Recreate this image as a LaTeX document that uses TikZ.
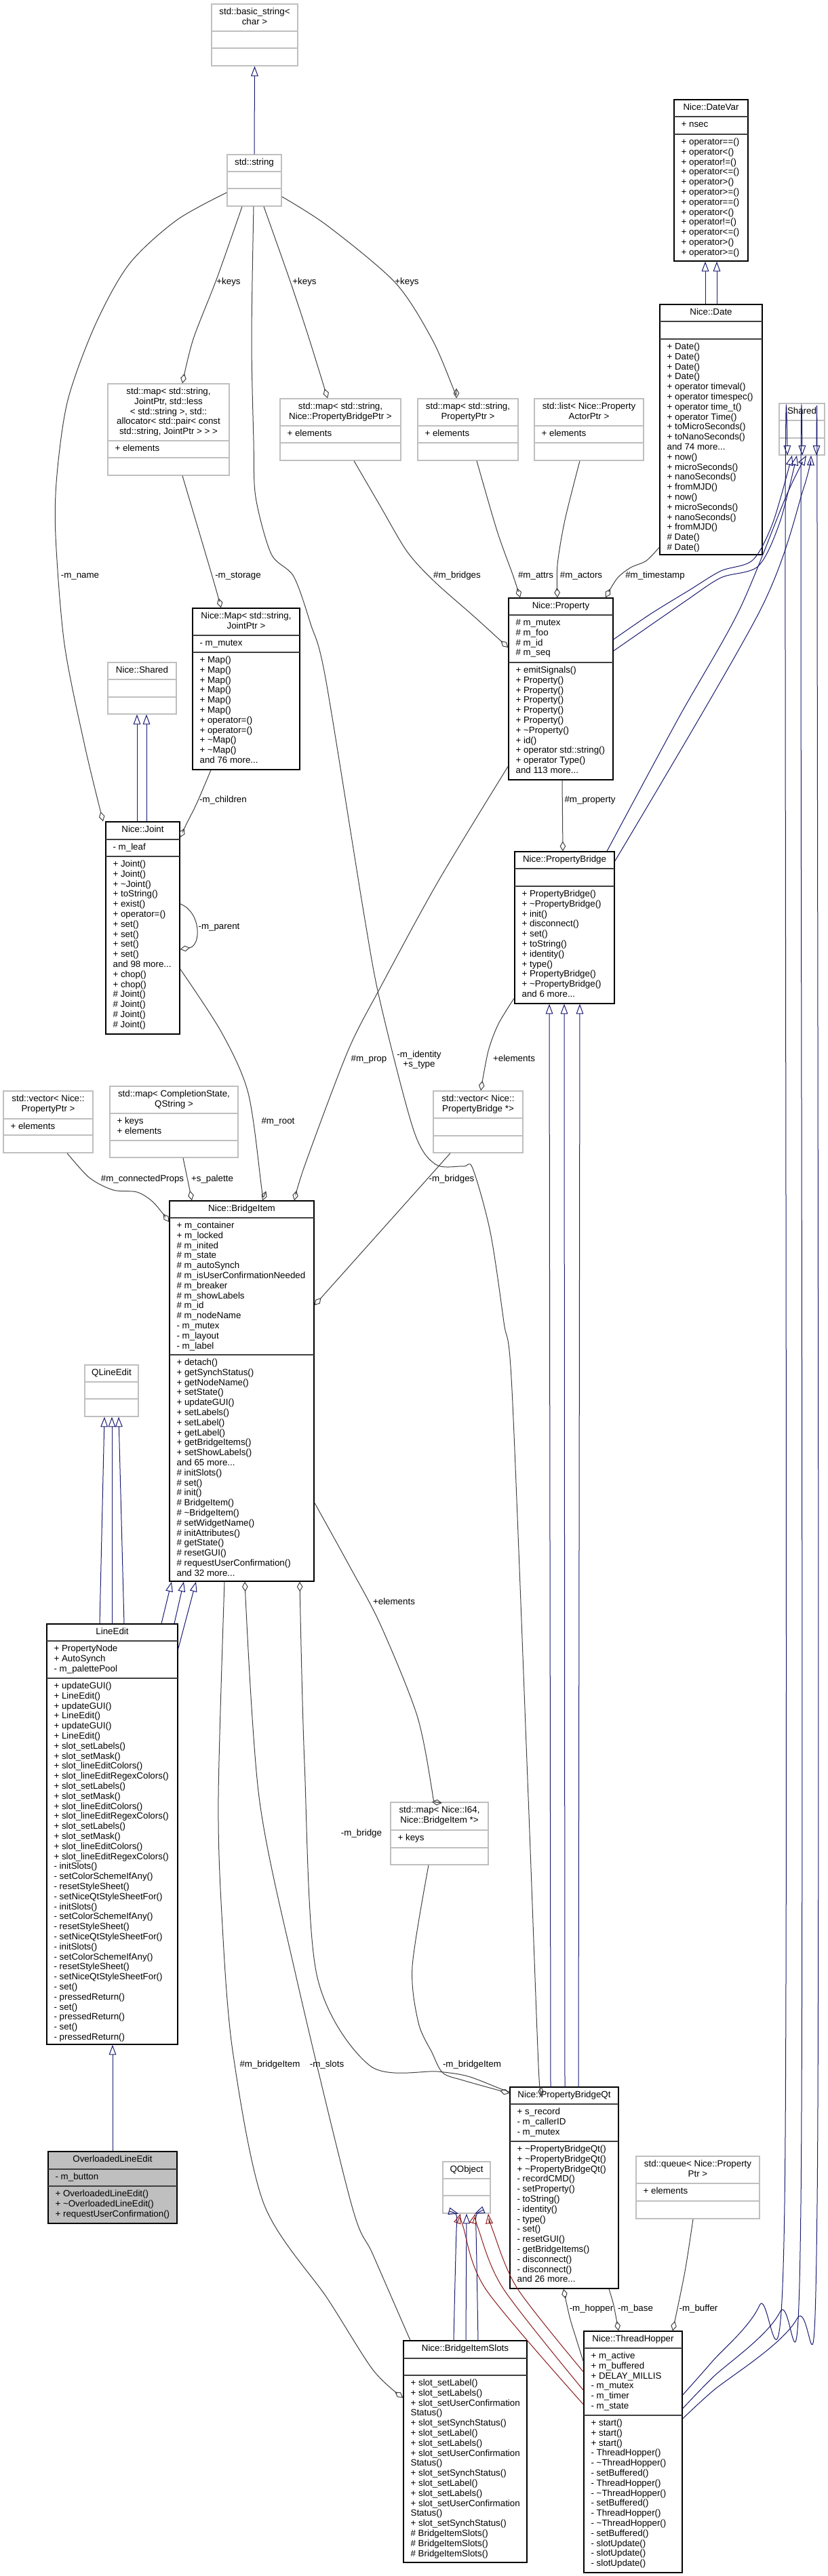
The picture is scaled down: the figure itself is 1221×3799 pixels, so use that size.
\documentclass[tikz,border=0pt]{standalone}
\usepackage{fontspec}
\setmainfont{Liberation Sans}
\usetikzlibrary{arrows.meta,fit}

\definecolor{extgray}{HTML}{BFBFBF}
\definecolor{sepgray}{HTML}{404040}
\definecolor{edgegray}{HTML}{404040}
\definecolor{inhblue}{HTML}{191970}
\definecolor{privred}{HTML}{8B1A1A}

\newcommand{\titlelines}[1]{\begin{tabular}[t]{@{}c@{}}#1\end{tabular}}
\newcommand{\memberlines}[1]{\begin{tabular}[t]{@{}l@{}}#1\end{tabular}}

% class box: style, name, (left, right, top, end of title, end of attributes, bottom), title
\def\umlbox#1#2(#3,#4,#5,#6,#7,#8)#9{%
  \node[#1, fit={(#3,#5) (#4,#8)}] (#2) {};
  \draw[#1 sep] (#3,#6) -- (#4,#6) (#3,#7) -- (#4,#7);
  \node[boxtitle] (#2-title) at ({(#3+#4)/2},{#5+15.5}) {\titlelines{#9}};
}
% one section of members, starting at y
\newcommand{\members}[3]{%
  \path (#1.west |- 0,#2) ++(11,15.5) node[boxtext] (#1-#2) {\memberlines{#3}};
}

\begin{document}
\begin{tikzpicture}[x=0.75pt, y=-0.75pt,
  extbox/.style={draw=extgray, line width=1pt, inner sep=0pt},
  extbox sep/.style={draw=extgray, line width=1pt},
  docbox/.style={draw=black, line width=1pt, inner sep=0pt},
  docbox sep/.style={draw=sepgray, line width=1.5pt},
  mainbox/.style={draw=black, fill=extgray, line width=1pt, inner sep=0pt},
  mainbox sep/.style={draw=sepgray, line width=1.5pt},
  boxtitle/.style={anchor=base, inner sep=0pt, font=\fontsize{10}{11.1}\selectfont},
  boxtext/.style={anchor=base west, inner sep=0pt, font=\fontsize{10}{11.1}\selectfont},
  elabel/.style={inner sep=0pt, text height=7.5pt, text depth=2pt, font=\fontsize{10}{11.1}\selectfont},
  elabel2/.style={inner sep=0pt, anchor=base, font=\fontsize{10}{11.1}\selectfont},
  assoc/.style={draw=edgegray, line width=0.75pt, -{Diamond[open, length=11pt, width=6.5pt]}},
  inherit/.style={draw=inhblue, line width=0.75pt, -{Triangle[open, length=11pt, width=8pt]}},
  privinherit/.style={draw=privred, line width=0.75pt, -{Triangle[open, length=11pt, width=8pt]}},
]
\useasboundingbox (0,0) rectangle (1221,3799);

% classes
\umlbox{extbox}{bstr}(312,439,6,46,71,97){std::basic\_string<\\char >}
\umlbox{extbox}{str}(335,415,228,253,278,304){std::string}

\umlbox{docbox}{datevar}(994,1103,147,172,198,385){Nice::DateVar}
\members{datevar}{172}{+ nsec}
\members{datevar}{198}{+ operator==()\\+ operator<()\\+ operator!=()\\+ operator<=()\\+ operator>()\\+ operator>=()\\+ operator==()\\+ operator<()\\+ operator!=()\\+ operator<=()\\+ operator>()\\+ operator>=()}

\umlbox{docbox}{date}(973,1124,449,474,500,818){Nice::Date}
\members{date}{500}{+ Date()\\+ Date()\\+ Date()\\+ Date()\\+ operator timeval()\\+ operator timespec()\\+ operator time\_t()\\+ operator Time()\\+ toMicroSeconds()\\+ toNanoSeconds()\\and 74 more...\\+ now()\\+ microSeconds()\\+ nanoSeconds()\\+ fromMJD()\\+ now()\\+ microSeconds()\\+ nanoSeconds()\\+ fromMJD()\\\# Date()\\\# Date()}

\umlbox{extbox}{shared}(1149,1216,595,620,646,671){Shared}

\umlbox{extbox}{jmap}(159,338,566,650,675,701){std::map< std::string,\\JointPtr, std::less\\< std::string >, std::\\allocator< std::pair< const\\std::string, JointPtr > > >}
\members{jmap}{650}{+ elements}
\umlbox{extbox}{pbmap}(413,591,588,628,653,679){std::map< std::string,\\Nice::PropertyBridgePtr >}
\members{pbmap}{628}{+ elements}
\umlbox{extbox}{pmap}(616,764,588,628,653,679){std::map< std::string,\\PropertyPtr >}
\members{pmap}{628}{+ elements}
\umlbox{extbox}{alist}(788,949,588,628,653,679){std::list< Nice::Property\\ActorPtr >}
\members{alist}{628}{+ elements}

\umlbox{docbox}{prop}(750,904,882,907,977,1150){Nice::Property}
\members{prop}{907}{\# m\_mutex\\\# m\_foo\\\# m\_id\\\# m\_seq}
\members{prop}{977}{+ emitSignals()\\+ Property()\\+ Property()\\+ Property()\\+ Property()\\+ Property()\\+ \textasciitilde Property()\\+ id()\\+ operator std::string()\\+ operator Type()\\and 113 more...}

\umlbox{extbox}{nshared}(159,260,977,1002,1028,1053){Nice::Shared}

\umlbox{docbox}{nmap}(284,442,897,937,962,1135){Nice::Map< std::string,\\JointPtr >}
\members{nmap}{937}{- m\_mutex}
\members{nmap}{962}{+ Map()\\+ Map()\\+ Map()\\+ Map()\\+ Map()\\+ Map()\\+ operator=()\\+ operator=()\\+ \textasciitilde Map()\\+ \textasciitilde Map()\\and 76 more...}

\umlbox{docbox}{joint}(156,265,1212,1238,1263,1525){Nice::Joint}
\members{joint}{1238}{- m\_leaf}
\members{joint}{1263}{+ Joint()\\+ Joint()\\+ \textasciitilde Joint()\\+ toString()\\+ exist()\\+ operator=()\\+ set()\\+ set()\\+ set()\\+ set()\\and 98 more...\\+ chop()\\+ chop()\\\# Joint()\\\# Joint()\\\# Joint()\\\# Joint()}

\umlbox{docbox}{pbridge}(759,906,1256,1281,1307,1480){Nice::PropertyBridge}
\members{pbridge}{1307}{+ PropertyBridge()\\+ \textasciitilde PropertyBridge()\\+ init()\\+ disconnect()\\+ set()\\+ toString()\\+ identity()\\+ type()\\+ PropertyBridge()\\+ \textasciitilde PropertyBridge()\\and 6 more...}

\umlbox{extbox}{pvec}(5,137,1609,1650,1674,1700){std::vector< Nice::\\PropertyPtr >}
\members{pvec}{1650}{+ elements}
\umlbox{extbox}{csmap}(162,351,1602,1642,1682,1707){std::map< CompletionState,\\QString >}
\members{csmap}{1642}{+ keys\\+ elements}
\umlbox{extbox}{pbvec}(639,771,1609,1649,1675,1700){std::vector< Nice::\\PropertyBridge *>}

\umlbox{docbox}{bitem}(250,463,1771,1796,1998,2332){Nice::BridgeItem}
\members{bitem}{1796}{+ m\_container\\+ m\_locked\\\# m\_inited\\\# m\_state\\\# m\_autoSynch\\\# m\_isUserConfirmationNeeded\\\# m\_breaker\\\# m\_showLabels\\\# m\_id\\\# m\_nodeName\\- m\_mutex\\- m\_layout\\- m\_label}
\members{bitem}{1998}{+ detach()\\+ getSynchStatus()\\+ getNodeName()\\+ setState()\\+ updateGUI()\\+ setLabels()\\+ setLabel()\\+ getLabel()\\+ getBridgeItems()\\+ setShowLabels()\\and 65 more...\\\# initSlots()\\\# set()\\\# init()\\\# BridgeItem()\\\# \textasciitilde BridgeItem()\\\# setWidgetName()\\\# initAttributes()\\\# getState()\\\# resetGUI()\\\# requestUserConfirmation()\\and 32 more...}

\umlbox{extbox}{qle}(125,204,2013,2038,2063,2089){QLineEdit}

\umlbox{docbox}{ledit}(69,262,2395,2420,2475,3015){LineEdit}
\members{ledit}{2420}{+ PropertyNode\\+ AutoSynch\\- m\_palettePool}
\members{ledit}{2475}{+ updateGUI()\\+ LineEdit()\\+ updateGUI()\\+ LineEdit()\\+ updateGUI()\\+ LineEdit()\\+ slot\_setLabels()\\+ slot\_setMask()\\+ slot\_lineEditColors()\\+ slot\_lineEditRegexColors()\\+ slot\_setLabels()\\+ slot\_setMask()\\+ slot\_lineEditColors()\\+ slot\_lineEditRegexColors()\\+ slot\_setLabels()\\+ slot\_setMask()\\+ slot\_lineEditColors()\\+ slot\_lineEditRegexColors()\\- initSlots()\\- setColorSchemeIfAny()\\- resetStyleSheet()\\- setNiceQtStyleSheetFor()\\- initSlots()\\- setColorSchemeIfAny()\\- resetStyleSheet()\\- setNiceQtStyleSheetFor()\\- initSlots()\\- setColorSchemeIfAny()\\- resetStyleSheet()\\- setNiceQtStyleSheetFor()\\- set()\\- pressedReturn()\\- set()\\- pressedReturn()\\- set()\\- pressedReturn()}

\umlbox{mainbox}{ole}(71,261,3173,3199,3224,3279){OverloadedLineEdit}
\members{ole}{3199}{- m\_button}
\members{ole}{3224}{+ OverloadedLineEdit()\\+ \textasciitilde OverloadedLineEdit()\\+ requestUserConfirmation()}

\umlbox{extbox}{imap}(576,720,2658,2699,2725,2750){std::map< Nice::I64,\\Nice::BridgeItem *>}
\members{imap}{2699}{+ keys}
\umlbox{extbox}{qobj}(653,723,3188,3213,3238,3264){QObject}

\umlbox{docbox}{pbqt}(752,912,3078,3103,3158,3375){Nice::PropertyBridgeQt}
\members{pbqt}{3103}{+ s\_record\\- m\_callerID\\- m\_mutex}
\members{pbqt}{3158}{+ \textasciitilde PropertyBridgeQt()\\+ \textasciitilde PropertyBridgeQt()\\+ \textasciitilde PropertyBridgeQt()\\- recordCMD()\\- setProperty()\\- toString()\\- identity()\\- type()\\- set()\\- resetGUI()\\- getBridgeItems()\\- disconnect()\\- disconnect()\\and 26 more...}

\umlbox{extbox}{queue}(938,1120,3180,3220,3246,3272){std::queue< Nice::Property\\Ptr >}
\members{queue}{3220}{+ elements}

\umlbox{docbox}{hopper}(861,1006,3438,3463,3562,3794){Nice::ThreadHopper}
\members{hopper}{3463}{+ m\_active\\+ m\_buffered\\+ DELAY\_MILLIS\\- m\_mutex\\- m\_timer\\- m\_state}
\members{hopper}{3562}{+ start()\\+ start()\\+ start()\\- ThreadHopper()\\- \textasciitilde ThreadHopper()\\- setBuffered()\\- ThreadHopper()\\- \textasciitilde ThreadHopper()\\- setBuffered()\\- ThreadHopper()\\- \textasciitilde ThreadHopper()\\- setBuffered()\\- slotUpdate()\\- slotUpdate()\\- slotUpdate()}

\umlbox{docbox}{bis}(595,777,3452,3478,3503,3779){Nice::BridgeItemSlots}
\members{bis}{3503}{+ slot\_setLabel()\\+ slot\_setLabels()\\+ slot\_setUserConfirmation\\Status()\\+ slot\_setSynchStatus()\\+ slot\_setLabel()\\+ slot\_setLabels()\\+ slot\_setUserConfirmation\\Status()\\+ slot\_setSynchStatus()\\+ slot\_setLabel()\\+ slot\_setLabels()\\+ slot\_setUserConfirmation\\Status()\\+ slot\_setSynchStatus()\\\# BridgeItemSlots()\\\# BridgeItemSlots()\\\# BridgeItemSlots()}

% inheritance
\draw[inherit] (str.north) -- (bstr.south);
\draw[inherit] (1040,0 |- date.north) -- (1040,0 |- datevar.south);
\draw[inherit] (1057,0 |- date.north) -- (1057,0 |- datevar.south);
\draw[inherit] (202,0 |- joint.north) -- (202,0 |- nshared.south);
\draw[inherit] (216,0 |- joint.north) -- (216,0 |- nshared.south);
\draw[inherit] (147,0 |- ledit.north) -- (154,0 |- qle.south);
\draw[inherit] (165,0 |- ledit.north) -- (165,0 |- qle.south);
\draw[inherit] (183,0 |- ledit.north) -- (175,0 |- qle.south);
\draw[inherit] (238,0 |- ledit.north) -- (253,0 |- bitem.south);
\draw[inherit] (257,0 |- ledit.north) -- (271,0 |- bitem.south);
\draw[inherit] (ledit.east |- 0,2432) -- (289,0 |- bitem.south);
\draw[inherit] (ole.north) -- (ole.north |- ledit.south);
\draw[inherit] (812,0 |- pbqt.north) -- (810,0 |- pbridge.south);
\draw[inherit] (833,0 |- pbqt.north) -- (832,0 |- pbridge.south);
\draw[inherit] (853,0 |- pbqt.north) -- (855,0 |- pbridge.south);
\draw[inherit] plot[smooth] coordinates {(669,0 |- bis.north) (673,3290) (676,0 |- qobj.south)};
\draw[inherit] (687,0 |- bis.north) -- (688,0 |- qobj.south);
\draw[inherit] plot[smooth] coordinates {(705,0 |- bis.north) (702,3290) (700,0 |- qobj.south)};
\draw[privinherit] plot[smooth] coordinates {(hopper.west |- 0,3546) (717,3377) (683,3284) (679,0 |- qobj.south)};
\draw[privinherit] plot[smooth] coordinates {(hopper.west |- 0,3525) (742,3375) (705,3286) (701,0 |- qobj.south)};
\draw[privinherit] plot[smooth] coordinates {(hopper.west |- 0,3498) (763,3375) (727,3290) (720,0 |- qobj.south)};
\draw[inherit] plot[smooth] coordinates {(prop.east |- 0,943) (960,905) (1017,870) (1063,842) (1110,826) (1140,770) (1168,0 |- shared.south)};
\draw[inherit] plot[smooth] coordinates {(prop.east |- 0,960) (1010,887) (1063,852) (1118,835) (1150,770) (1175,0 |- shared.south)};
\draw[inherit] plot[smooth] coordinates {(895,0 |- pbridge.north) (1000,1060) (1090,900) (1160,730) (1189,0 |- shared.south)};
\draw[inherit] plot[smooth] coordinates {(pbridge.east |- 0,1270) (1121,900) (1185,720) (1196,0 |- shared.south)};
\draw[inherit] plot[smooth] coordinates {(hopper.east |- 0,3532) (1050,3483) (1120,3400) (1157,3250) (1158,800) (1161,0 |- shared.south)};
\draw[inherit] plot[smooth] coordinates {(hopper.east |- 0,3552) (1050,3507) (1150,3410) (1181,3250) (1181,800) (1183,0 |- shared.south)};
\draw[inherit] plot[smooth] coordinates {(hopper.east |- 0,3567) (1050,3527) (1175,3420) (1205,3250) (1205,800) (1204,0 |- shared.south)};

% members
\draw[assoc] plot[smooth] coordinates {(357,0 |- str.south) (320,410) (285,500) (269,0 |- jmap.north)};
\draw[assoc] plot[smooth] coordinates {(389,0 |- str.south) (428,415) (456,500) (483,0 |- pbmap.north)};
\draw[assoc] plot[smooth] coordinates {(str.east |- 0,290) (483,333) (583,417) (637,500) (668,572) (673,0 |- pmap.north)};
\draw[assoc] plot[smooth] coordinates {(str.west |- 0,284) (260,325) (190,390) (140,480) (100,590) (84,700) (82,790) (95,950) (125,1100) (152,0 |- joint.north)};
\draw[assoc] plot[smooth] coordinates {(374,0 |- str.south) (371,500) (374,650) (377,733) (400,817) (433,850) (458,920) (480,1000) (537,1350) (561,1479) (610,1667) (642,1717) (683,1720) (697,1723) (723,1817) (743,1950) (755,2050) (779,2650) (794,3046) (798,0 |- pbqt.north)};
\draw[assoc] plot[smooth] coordinates {(522,0 |- pbmap.south) (560,745) (600,813) (640,857) (700,910) (prop.west |- 0,955)};
\draw[assoc] plot[smooth] coordinates {(703,0 |- pmap.south) (733,783) (757,850) (767,0 |- prop.north)};
\draw[assoc] plot[smooth] coordinates {(855,0 |- alist.south) (833,767) (822,833) (822,0 |- prop.north)};
\draw[assoc] plot[smooth] coordinates {(date.west |- 0,807) (953,827) (930,837) (910,853) (893,0 |- prop.north)};
\draw[assoc] plot[smooth] coordinates {(269,0 |- jmap.south) (313,850) (326,0 |- nmap.north)};
\draw[assoc] plot[smooth] coordinates {(311,0 |- nmap.south) (290,1185) (275,1215) (joint.east |- 0,1235)};
\draw[assoc] (joint.east |- 0,1333) .. controls (297,1345) and (297,1395) .. (joint.east |- 0,1400);
\draw[assoc] (829,0 |- prop.south) -- (830,0 |- pbridge.north);
\draw[assoc] plot[smooth] coordinates {(pbridge.west |- 0,1472) (735,1510) (720,1550) (709,0 |- pbvec.north)};
\draw[assoc] plot[smooth] coordinates {(99,0 |- pvec.south) (132,1737) (167,1755) (202,1758) (226,1773) (bitem.west |- 0,1802)};
\draw[assoc] (270,0 |- csmap.south) -- (283,0 |- bitem.north);
\draw[assoc] plot[smooth] coordinates {(joint.east |- 0,1429) (327,1523) (366,1612) (385,1746) (387,0 |- bitem.north)};
\draw[assoc] plot[smooth] coordinates {(prop.west |- 0,1130) (646,1300) (561,1456) (513,1550) (450,1717) (434,0 |- bitem.north)};
\draw[assoc] (664,0 |- pbvec.south) -- (bitem.east |- 0,1925);
\draw[assoc] plot[smooth] coordinates {(bitem.east |- 0,2216) (514,2307) (561,2396) (615,2530) (637,2640) (637,0 |- imap.north)};
\draw[assoc] plot[smooth] coordinates {(331,0 |- bitem.south) (322,2650) (327,2823) (343,3024) (389,3250) (483,3390) (550,3495) (bis.west |- 0,3536)};
\draw[assoc] plot[smooth] coordinates {(605,0 |- bis.north) (550,3325) (518,3250) (436,2912) (382,2650) (361,0 |- bitem.south)};
\draw[assoc] plot[smooth] coordinates {(pbqt.west |- 0,3085) (737,3080) (690,3062) (646,3055) (545,3046) (467,2912) (449,2600) (442,0 |- bitem.south)};
\draw[assoc] plot[smooth] coordinates {(632,0 |- imap.south) (608,2900) (617,2983) (637,3027) (653,3057) (683,3068) (pbqt.west |- 0,3087)};
\draw[assoc] plot[smooth] coordinates {(hopper.west |- 0,3483) (850,3450) (840,3417) (831,0 |- pbqt.south)};
\draw[assoc] plot[smooth] coordinates {(898,0 |- pbqt.south) (905,3400) (912,0 |- hopper.north)};
\draw[assoc] plot[smooth] coordinates {(1022,0 |- queue.south) (1010,3350) (992,0 |- hopper.north)};

% edge labels
\node[elabel] (l-keys1) at (337,416) {+keys};
\node[elabel] (l-keys2) at (449,416) {+keys};
\node[elabel] (l-keys3) at (600,416) {+keys};
\node[elabel] (l-name) at (118,849) {-m\_name};
\node[elabel] (l-storage) at (351,849) {-m\_storage};
\node[elabel] (l-bridges) at (674,849) {\#m\_bridges};
\node[elabel] (l-attrs) at (790,849) {\#m\_attrs};
\node[elabel] (l-actors) at (857,849) {\#m\_actors};
\node[elabel] (l-stamp) at (966,849) {\#m\_timestamp};
\node[elabel] (l-children) at (329,1180) {-m\_children};
\node[elabel] (l-property) at (870,1180) {\#m\_property};
\node[elabel] (l-parent) at (323,1367) {-m\_parent};
\node[elabel] (l-prop) at (544,1562) {\#m\_prop};
\node[elabel2] (l-identity) at (618,1559) {\titlelines{-m\_identity\\+s\_type}};
\node[elabel] (l-pbelem) at (758,1562) {+elements};
\node[elabel] (l-root) at (410,1654) {\#m\_root};
\node[elabel] (l-connected) at (210,1739) {\#m\_connectedProps};
\node[elabel] (l-palette) at (313,1739) {+s\_palette};
\node[elabel] (l-bibridges) at (666,1739) {-m\_bridges};
\node[elabel] (l-bielem) at (581,2363) {+elements};
\node[elabel] (l-bridge) at (533,2704) {-m\_bridge};
\node[elabel] (l-bridgeitem1) at (398,3045) {\#m\_bridgeItem};
\node[elabel] (l-slots) at (482,3045) {-m\_slots};
\node[elabel] (l-bridgeitem2) at (696,3045) {-m\_bridgeItem};
\node[elabel] (l-hopper) at (872,3405) {-m\_hopper};
\node[elabel] (l-base) at (937,3405) {-m\_base};
\node[elabel] (l-buffer) at (1030,3405) {-m\_buffer};
\end{tikzpicture}
\end{document}
